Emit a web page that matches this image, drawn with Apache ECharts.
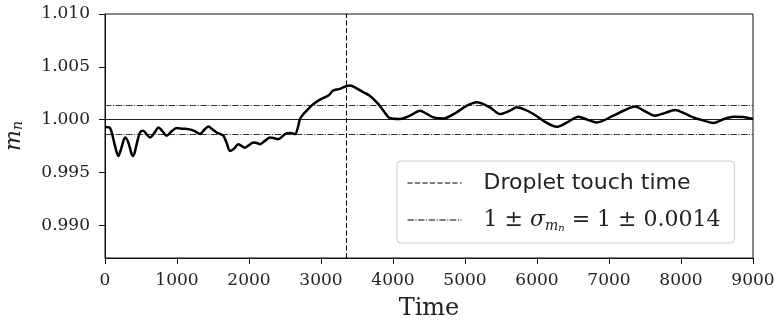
<!DOCTYPE html>
<html><head><meta charset="utf-8">
<script src="https://cdn.jsdelivr.net/npm/echarts@6/dist/echarts.min.js"></script>
<style>html,body{margin:0;padding:0;background:#fff}#c{width:774px;height:329px}</style>
</head><body><div id="c"></div>
<script>
const times = [0, 60, 93, 139, 185, 231, 278, 324, 370, 393, 440, 486, 532, 580, 625, 690, 741, 800, 856, 925, 995, 1080, 1157, 1240, 1319, 1380, 1435, 1500, 1551, 1600, 1644, 1690, 1736, 1790, 1852, 1900, 1944, 2000, 2060, 2110, 2153, 2220, 2292, 2350, 2407, 2470, 2523, 2580, 2639, 2680, 2708, 2750, 2801, 2880, 2963, 3030, 3102, 3171, 3250, 3320, 3403, 3500, 3588, 3660, 3727, 3800, 3866, 3958, 4097, 4236, 4375, 4470, 4560, 4699, 4884, 5020, 5162, 5347, 5486, 5625, 5718, 5830, 5949, 6100, 6273, 6420, 6574, 6700, 6829, 7060, 7200, 7361, 7500, 7639, 7780, 7917, 8050, 8171, 8300, 8449, 8590, 8727, 8860, 9000];
const mn = [0.99930, 0.99927, 0.99880, 0.99752, 0.99657, 0.99740, 0.99831, 0.99784, 0.99676, 0.99657, 0.99770, 0.99879, 0.99895, 0.99860, 0.99831, 0.99880, 0.99927, 0.99890, 0.99848, 0.99890, 0.99921, 0.99915, 0.99911, 0.99895, 0.99864, 0.99905, 0.99936, 0.99905, 0.99879, 0.99865, 0.99848, 0.99780, 0.99705, 0.99725, 0.99769, 0.99750, 0.99736, 0.99760, 0.99784, 0.99780, 0.99769, 0.99800, 0.99831, 0.99825, 0.99816, 0.99845, 0.99873, 0.99875, 0.99864, 0.99930, 1.00007, 1.00050, 1.00086, 1.00140, 1.00181, 1.00205, 1.00228, 1.00276, 1.00290, 1.00310, 1.00324, 1.00295, 1.00260, 1.00235, 1.00197, 1.00145, 1.00086, 1.00016, 1.00007, 1.00038, 1.00086, 1.00055, 1.00022, 1.00012, 1.00070, 1.00130, 1.00165, 1.00117, 1.00054, 1.00086, 1.00117, 1.00095, 1.00054, 0.99985, 0.99933, 0.99975, 1.00029, 1.00000, 0.99974, 1.00038, 1.00085, 1.00124, 1.00080, 1.00038, 1.00065, 1.00092, 1.00060, 1.00022, 0.99995, 0.99969, 1.00005, 1.00029, 1.00025, 1.00007];
const touchTime = 3357;
const sigma = 0.0014;
const refLevel = 1.0;
const yTicks = [0.990, 0.995, 1.000, 1.005, 1.010];
const xTicks = [0, 1000, 2000, 3000, 4000, 5000, 6000, 7000, 8000, 9000];
const legendNames = ['Droplet touch time', '1 ± σ'];

const serif = 'DejaVu Serif';
const chart = echarts.init(document.getElementById('c'), null, {renderer: 'canvas'});
const dashDot = [6.4, 1.6, 1, 1.6];
const dashed = [5, 2.5];
chart.setOption({
  animation: false,
  grid: {left: 105, right: 21, top: 14, bottom: 71, show: true, borderColor: '#111', borderWidth: 1,
         backgroundColor: 'transparent', containLabel: false, outerBoundsMode: 'none'},
  xAxis: {
    type: 'value', min: xTicks[0], max: xTicks[xTicks.length - 1], interval: 1000,
    name: 'Time', nameLocation: 'middle', nameGap: 39,
    nameTextStyle: {fontFamily: serif, fontSize: 24, color: '#222'},
    axisLine: {show: true, lineStyle: {color: '#111', width: 1}},
    axisTick: {show: true, length: 6, lineStyle: {color: '#111'}},
    axisLabel: {fontFamily: serif, fontSize: 17, color: '#222', margin: 14, formatter: v => String(v)},
    splitLine: {show: false}
  },
  yAxis: {
    type: 'value', min: 0.98692, max: 1.010,
    name: '{m|m}{n|n}', nameLocation: 'middle', nameGap: 80, nameRotate: 90,
    nameTextStyle: {rich: {
      m: {fontFamily: serif, fontStyle: 'italic', fontSize: 22, color: '#222', lineHeight: 26, verticalAlign: 'bottom'},
      n: {fontFamily: serif, fontStyle: 'italic', fontSize: 14, color: '#222', lineHeight: 22, verticalAlign: 'bottom'}
    }},
    axisLine: {show: true, lineStyle: {color: '#111', width: 1}},
    axisTick: {show: true, length: 6, lineStyle: {color: '#111'}, customValues: yTicks},
    axisLabel: {fontFamily: serif, fontSize: 17, color: '#222', margin: 15, customValues: yTicks, formatter: v => v.toFixed(3)},
    splitLine: {show: false}
  },
  legend: {
    orient: 'vertical', left: 397, top: 161, padding: [9, 14, 10, 10], itemGap: 11,
    itemWidth: 54, itemHeight: 14, selectedMode: false,
    borderColor: '#cccccc', borderWidth: 1, borderRadius: 4, backgroundColor: 'rgba(255,255,255,0.8)',
    itemStyle: {opacity: 0},
    data: [
      {name: legendNames[0], itemStyle: {opacity: 0}, lineStyle: {type: dashed, color: '#000', width: 1}},
      {name: legendNames[1], itemStyle: {opacity: 0}, lineStyle: {type: dashDot, color: '#000', width: 1}}
    ],
    formatter: function (name) {
      if (name === legendNames[0]) return '{a|Droplet touch time}';
      return '{b0|1 ± }{s|σ}{m|m}{n|n}{b| = 1 ± ' + sigma.toFixed(4) + '}';
    },
    textStyle: {color: '#222', lineHeight: 26, rich: {
      a: {fontFamily: 'DejaVu Sans', fontSize: 22, color: '#222', lineHeight: 26, padding: [0, 0, 0, 17]},
      b0: {fontFamily: serif, fontSize: 22, color: '#222', lineHeight: 26, padding: [0, 0, 0, 17]},
      b: {fontFamily: serif, fontSize: 22, color: '#222', lineHeight: 26},
      s: {fontFamily: serif, fontStyle: 'italic', fontSize: 22, color: '#222', lineHeight: 26},
      m: {fontFamily: serif, fontStyle: 'italic', fontSize: 14, color: '#222', lineHeight: 24, verticalAlign: 'bottom'},
      n: {fontFamily: serif, fontStyle: 'italic', fontSize: 10, color: '#222', lineHeight: 20, verticalAlign: 'bottom'}
    }}
  },
  series: [
    {
      name: 'mn', type: 'line', data: times.map((t, i) => [t, mn[i]]),
      symbol: 'none', smooth: 0.3, lineStyle: {color: '#000', width: 2.5}, z: 5,
      markLine: {silent: true, symbol: 'none', label: {show: false}, precision: 6,
        lineStyle: {color: '#222', width: 1, type: 'solid'},
        data: [
          {yAxis: refLevel},
          {yAxis: refLevel + sigma, lineStyle: {color: '#333', width: 1, type: dashDot}},
          {yAxis: refLevel - sigma, lineStyle: {color: '#333', width: 1, type: dashDot}}
        ]}
    },
    {
      name: legendNames[0], type: 'line', data: [], symbol: 'none', itemStyle: {color: '#000'},
      lineStyle: {color: '#000', width: 1, type: dashed},
      markLine: {silent: true, symbol: 'none', label: {show: false}, precision: 6,
        lineStyle: {color: '#000', width: 1, type: dashed},
        data: [{xAxis: touchTime}]}
    },
    {
      name: legendNames[1], type: 'line', data: [], symbol: 'none', itemStyle: {color: '#000'},
      lineStyle: {color: '#000', width: 1, type: dashDot}
    }
  ]
});
</script></body></html>
